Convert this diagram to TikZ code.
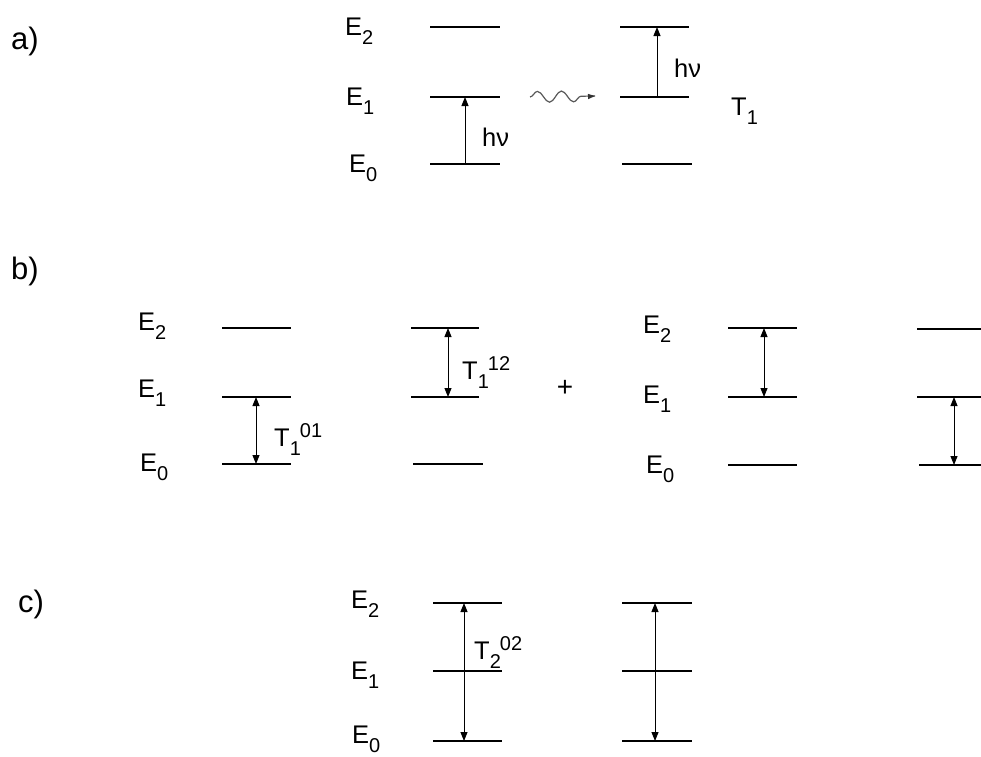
\documentclass[tikz,border=0pt]{standalone}
\usepackage{fontspec}
\setmainfont{Liberation Sans}
\usetikzlibrary{arrows.meta,decorations.pathmorphing}
\newcommand{\mainsz}{\fontsize{25.5pt}{29pt}\selectfont}
\newcommand{\smsz}{\fontsize{20pt}{22pt}\selectfont}
\newcommand{\lowx}[1]{\raisebox{-9pt}{\smsz #1}}
\newcommand{\highx}[1]{\raisebox{9pt}{\smsz #1}}
\begin{document}
\begin{tikzpicture}[x=1pt,y=-1pt,
  lvl/.style={line width=1.1pt},
  uparr/.style={line width=1pt,-{Triangle[length=9pt,width=7pt]}},
  dblarr/.style={line width=1pt,{Triangle[length=9pt,width=7pt]}-{Triangle[length=9pt,width=7pt]}},
  lab/.style={inner sep=0pt,anchor=base west,font=\mainsz},
  part/.style={inner sep=0pt,anchor=base west,font=\fontsize{31pt}{34pt}\selectfont},
  wave/.style={draw=black!65,line width=1.2pt,decorate,
    decoration={snake,segment length=24pt,amplitude=5.5pt,post length=5pt}}]
\path[use as bounding box] (0,0) rectangle (981,756);

% ---------- a) ----------
\node[part] (pa) at (11,49) {a)};
\node[lab] (aE2) at (345,35) {E\lowx{2}};
\node[lab] (aE1) at (346,105) {E\lowx{1}};
\node[lab] (aE0) at (349,172) {E\lowx{0}};
% left levels
\coordinate (a2w) at (430,27);  \coordinate (a2e) at (500,27);
\coordinate (a1w) at (430,97);  \coordinate (a1e) at (500,97);
\coordinate (a0w) at (430,164); \coordinate (a0e) at (500,164);
\draw[lvl] (a2w) -- (a2e);
\draw[lvl] (a1w) -- (a1e);
\draw[lvl] (a0w) -- (a0e);
\coordinate (aArS) at (465,164); \coordinate (aArE) at (465,97);
\draw[uparr] (aArS) -- (aArE);
\node[lab] (ahv1) at (482,146) {hν};
% wavy
\coordinate (wS) at (530,97); \coordinate (wE) at (595,96);
\draw[wave] (wS) -- (wE);
\draw[black!80,line width=1pt,-{Triangle[length=7pt,width=5pt]}] (588,96.5) -- (wE);
% right levels
\coordinate (b2w) at (620,27);  \coordinate (b2e) at (689,27);
\coordinate (b1w) at (620,97);  \coordinate (b1e) at (689,97);
\coordinate (b0w) at (622,164); \coordinate (b0e) at (692,164);
\draw[lvl] (b2w) -- (b2e);
\draw[lvl] (b1w) -- (b1e);
\draw[lvl] (b0w) -- (b0e);
\coordinate (bArS) at (657,97); \coordinate (bArE) at (657,27);
\draw[uparr] (bArS) -- (bArE);
\node[lab] (ahv2) at (674,77) {hν};
\node[lab] (aT1) at (731,115) {T\lowx{1}};

% ---------- b) ----------
\node[part] (pb) at (11,279) {b)};
\node[lab] (bE2) at (138,330) {E\lowx{2}};
\node[lab] (bE1) at (138,397) {E\lowx{1}};
\node[lab] (bE0) at (140,471) {E\lowx{0}};
\coordinate (c2w) at (222,328); \coordinate (c2e) at (291,328);
\coordinate (c1w) at (222,397); \coordinate (c1e) at (291,397);
\coordinate (c0w) at (222,464); \coordinate (c0e) at (291,464);
\draw[lvl] (c2w) -- (c2e);
\draw[lvl] (c1w) -- (c1e);
\draw[lvl] (c0w) -- (c0e);
\coordinate (cArS) at (256,397); \coordinate (cArE) at (256,464);
\draw[dblarr] (cArS) -- (cArE);
\node[lab] (bT01) at (274,446) {T\lowx{1}\kern-1pt\highx{01}};

\coordinate (d2w) at (411,328); \coordinate (d2e) at (479,328);
\coordinate (d1w) at (411,397); \coordinate (d1e) at (479,397);
\coordinate (d0w) at (413,464); \coordinate (d0e) at (483,464);
\draw[lvl] (d2w) -- (d2e);
\draw[lvl] (d1w) -- (d1e);
\draw[lvl] (d0w) -- (d0e);
\coordinate (dArS) at (448,328); \coordinate (dArE) at (448,397);
\draw[dblarr] (dArS) -- (dArE);
\node[lab] (bT12) at (462,379) {T\lowx{1}\kern-1pt\highx{12}};

\node[inner sep=0pt,font=\fontsize{28pt}{30pt}\selectfont] (plus) at (565,388) {+};

\node[lab] (bE2r) at (643,333) {E\lowx{2}};
\node[lab] (bE1r) at (643,403) {E\lowx{1}};
\node[lab] (bE0r) at (646,473) {E\lowx{0}};
\coordinate (e2w) at (728,328); \coordinate (e2e) at (797,328);
\coordinate (e1w) at (728,397); \coordinate (e1e) at (797,397);
\coordinate (e0w) at (728,465); \coordinate (e0e) at (797,465);
\draw[lvl] (e2w) -- (e2e);
\draw[lvl] (e1w) -- (e1e);
\draw[lvl] (e0w) -- (e0e);
\coordinate (eArS) at (764,328); \coordinate (eArE) at (764,397);
\draw[dblarr] (eArS) -- (eArE);

\coordinate (f2w) at (917,329); \coordinate (f2e) at (981,329);
\coordinate (f1w) at (917,397); \coordinate (f1e) at (981,397);
\coordinate (f0w) at (919,465); \coordinate (f0e) at (981,465);
\draw[lvl] (f2w) -- (f2e);
\draw[lvl] (f1w) -- (f1e);
\draw[lvl] (f0w) -- (f0e);
\coordinate (fArS) at (954,397); \coordinate (fArE) at (954,465);
\draw[dblarr] (fArS) -- (fArE);

% ---------- c) ----------
\node[part] (pc) at (18,612) {c)};
\node[lab] (cE2) at (351,608) {E\lowx{2}};
\node[lab] (cE1) at (351,679) {E\lowx{1}};
\node[lab] (cE0) at (352,743) {E\lowx{0}};
\coordinate (g2w) at (433,603); \coordinate (g2e) at (502,603);
\coordinate (g1w) at (433,671); \coordinate (g1e) at (502,671);
\coordinate (g0w) at (433,741); \coordinate (g0e) at (502,741);
\draw[lvl] (g2w) -- (g2e);
\draw[lvl] (g1w) -- (g1e);
\draw[lvl] (g0w) -- (g0e);
\coordinate (gArS) at (464,603); \coordinate (gArE) at (464,741);
\draw[dblarr] (gArS) -- (gArE);
\node[lab] (cT02) at (474,659) {T\lowx{2}\kern-1pt\highx{02}};

\coordinate (h2w) at (622,603); \coordinate (h2e) at (692,603);
\coordinate (h1w) at (622,671); \coordinate (h1e) at (692,671);
\coordinate (h0w) at (622,741); \coordinate (h0e) at (692,741);
\draw[lvl] (h2w) -- (h2e);
\draw[lvl] (h1w) -- (h1e);
\draw[lvl] (h0w) -- (h0e);
\coordinate (hArS) at (655,603); \coordinate (hArE) at (655,741);
\draw[dblarr] (hArS) -- (hArE);
\end{tikzpicture}
\end{document}
